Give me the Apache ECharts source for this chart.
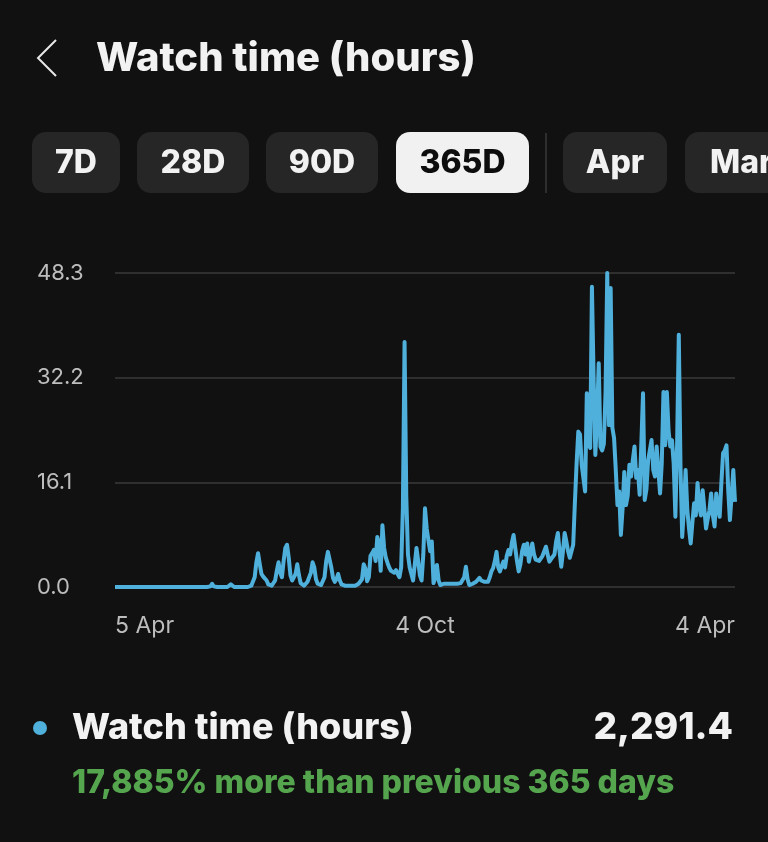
<!DOCTYPE html>
<html>
<head>
<meta charset="utf-8">
<script src="https://cdn.jsdelivr.net/npm/echarts@6/dist/echarts.min.js"></script>
<style>
html,body{margin:0;padding:0;background:#111111;}
#chart{width:768px;height:842px;}
</style>
</head>
<body>
<div id="chart"></div>
<script>
// ---- data ----
const startDate = [2022, 3, 5]; // 5 Apr (month index 3)
const tickLabels = ['5 Apr', '4 Oct', '4 Apr'];
const yTicks = [0, 16.1, 32.2, 48.3];
const rangeButtons = ['7D', '28D', '90D', '365D', 'Apr', 'Mar'];
const selectedRange = '365D';
const titleText = 'Watch time (hours)';
const totalValue = '2,291.4';
const compareText = '17,885% more than previous 365 days';
const watchHours = [
  0,0,0,0,0,0,0,0,0,0,
  0,0,0,0,0,0,0,0,0,0,
  0,0,0,0,0,0,0,0,0,0,
  0,0,0,0,0,0,0,0,0,0,
  0,0,0,0,0,0,0,0,0,0,
  0,0,0,0,0,0,0.1,0.5,0.1,0,
  0,0,0,0,0,0,0,0.1,0.4,0.1,
  0,0,0,0,0,0,0,0,0,0.1,
  0.2,0.5,1.5,3.8,5.2,3.5,2.0,1.6,1.8,1.0,
  0.4,0.3,0.2,0.5,1.0,2.5,3.8,2.2,1.5,4.0,
  6.0,6.5,4.5,1.8,1.0,0.8,2.0,3.5,1.8,0.6,
  0.3,0.2,0.3,0.8,1.5,2.2,3.8,3.0,1.2,0.5,
  0.4,0.3,0.6,1.5,4.0,5.4,5.3,3.0,1.4,0.8,
  1.2,2.0,1.0,0.4,0.3,0.2,0.3,0.2,0.3,0.2,
  0.3,0.2,0.3,0.5,0.4,1.2,3.5,2.8,0.9,1.5,
  4.8,5.2,5.7,4.0,7.7,6.5,2.5,9.5,6.0,4.5,
  3.7,3.0,2.5,2.8,2.2,2.6,2.0,1.5,3.0,12.0,
  37.7,14.0,5.0,3.0,2.0,1.0,3.5,6.0,4.0,1.8,
  1.0,5.0,12.1,9.0,7.2,5.5,7.0,0.6,1.5,3.4,
  1.0,0.3,0.5,0.5,0.5,0.5,0.5,0.5,0.5,0.5,
  0.5,0.5,0.5,0.6,0.8,1.5,3.1,1.2,0.3,0.4,
  0.5,0.6,0.8,1.0,1.4,1.0,0.7,0.8,0.9,0.8,
  1.5,2.4,2.9,4.0,5.4,3.0,2.4,3.2,3.9,3.0,
  4.8,5.7,5.0,6.8,8.0,6.0,4.0,2.4,3.5,5.5,
  6.5,5.0,6.7,3.9,5.2,6.7,5.0,4.2,4.5,4.0,
  4.2,4.8,5.5,6.2,5.0,3.9,4.3,4.0,5.0,7.0,
  8.3,5.5,3.1,5.5,8.3,7.0,5.5,4.5,4.5,6.5,
  13.0,19.0,23.9,23.5,18.8,18.8,14.7,29.8,22.0,21.4,
  46.2,32.0,20.3,26.0,34.4,21.6,21.0,22.0,30.0,48.3,
  24.9,46.0,24.5,22.9,18.0,12.6,14.7,8.0,12.0,17.7,
  12.6,14.0,18.8,17.0,19.5,21.6,16.8,18.0,14.2,22.0,
  29.8,13.4,15.0,19.5,19.8,22.6,18.0,17.0,21.6,18.0,
  14.4,19.0,30.0,21.8,30.0,24.0,21.6,22.6,19.0,10.8,
  22.0,38.8,18.5,7.7,12.0,18.0,11.8,9.0,6.7,10.0,
  12.9,11.0,16.0,12.4,11.0,14.9,12.0,9.0,10.5,11.8,
  14.4,11.0,9.3,14.4,12.0,10.8,16.0,20.6,21.0,21.8,
  15.0,10.3,14.0,18.0,13.1
];

// ---- build categories (dates) ----
const MONTHS = ['Jan','Feb','Mar','Apr','May','Jun','Jul','Aug','Sep','Oct','Nov','Dec'];
const categories = watchHours.map((v, i) => {
  const d = new Date(startDate[0], startDate[1], startDate[2] + i);
  return d.getDate() + ' ' + MONTHS[d.getMonth()];
});

const LINE = '#4fb0db';
const FONT = 'Inter, Roboto, "Noto Sans", sans-serif';

const chart = echarts.init(document.getElementById('chart'), null, {renderer: 'canvas'});

// buttons layout (styling only)
const btnBoxes = [[32, 88], [137, 112], [266, 112], [396, 133], [563, 104], [685, 110]];
const graphics = [];
// back chevron
graphics.push({
  type: 'polyline',
  shape: {points: [[56, 40], [38, 58], [56, 76]]},
  style: {stroke: '#e8e8e8', lineWidth: 2, fill: null}
});
graphics.push({
  type: 'text', x: 96, y: 59,
  style: {text: titleText, fill: '#f2f2f2', font: '800 40px ' + FONT, verticalAlign: 'middle'}
});
rangeButtons.forEach((label, i) => {
  const [x, w] = btnBoxes[i];
  const sel = label === selectedRange;
  graphics.push({
    type: 'rect',
    shape: {x: x, y: 132, width: w, height: 61, r: 14},
    style: {fill: sel ? '#f1f1f1' : '#262626'}
  });
  graphics.push({
    type: 'text', x: i === 5 ? x + 25 : x + w / 2, y: 163,
    style: {text: label, fill: sel ? '#0d0d0d' : '#f2f2f2', font: '800 32px ' + FONT,
            align: i === 5 ? 'left' : 'center', verticalAlign: 'middle'}
  });
});
graphics.push({
  type: 'rect', shape: {x: 545, y: 133, width: 2, height: 60}, style: {fill: '#2e2e2e'}
});
// legend / total
graphics.push({type: 'circle', shape: {cx: 40, cy: 728, r: 7}, style: {fill: LINE}});
graphics.push({
  type: 'text', x: 72, y: 728,
  style: {text: titleText, fill: '#f2f2f2', font: '800 36px ' + FONT, verticalAlign: 'middle'}
});
graphics.push({
  type: 'text', x: 733, y: 728,
  style: {text: totalValue, fill: '#f2f2f2', font: '800 37px ' + FONT, align: 'right', verticalAlign: 'middle'}
});
graphics.push({
  type: 'text', x: 72, y: 783,
  style: {text: compareText, fill: '#55a54e', font: '800 32px ' + FONT, verticalAlign: 'middle'}
});

chart.setOption({
  backgroundColor: '#111111',
  animation: false,
  grid: {left: 115, right: 33, top: 273, bottom: 255, containLabel: false},
  xAxis: {
    type: 'category',
    data: categories,
    boundaryGap: false,
    axisLine: {show: false},
    axisTick: {show: false},
    splitLine: {show: false},
    axisLabel: {
      interval: (idx, val) => tickLabels.includes(val) && (idx === 0 || idx === 182 || idx === categories.length - 1),
      color: '#bdbdbd',
      fontFamily: FONT,
      fontSize: 23,
      margin: 28,
      alignMinLabel: 'left',
      alignMaxLabel: 'right',
      showMinLabel: true,
      showMaxLabel: true,
      hideOverlap: false
    }
  },
  yAxis: {
    type: 'value',
    min: yTicks[0],
    max: yTicks[yTicks.length - 1],
    interval: yTicks[1],
    axisLine: {show: false},
    axisTick: {show: false},
    splitLine: {lineStyle: {color: '#2f2f2f', width: 2}},
    axisLabel: {
      color: '#bdbdbd',
      fontFamily: FONT,
      fontSize: 22,
      align: 'left',
      margin: 78,
      formatter: v => v.toFixed(1)
    }
  },
  series: [{
    type: 'line',
    data: watchHours,
    showSymbol: false,
    symbol: 'none',
    lineStyle: {color: LINE, width: 4, join: 'round'},
    itemStyle: {color: LINE}
  }],
  graphic: graphics
});
</script>
</body>
</html>
